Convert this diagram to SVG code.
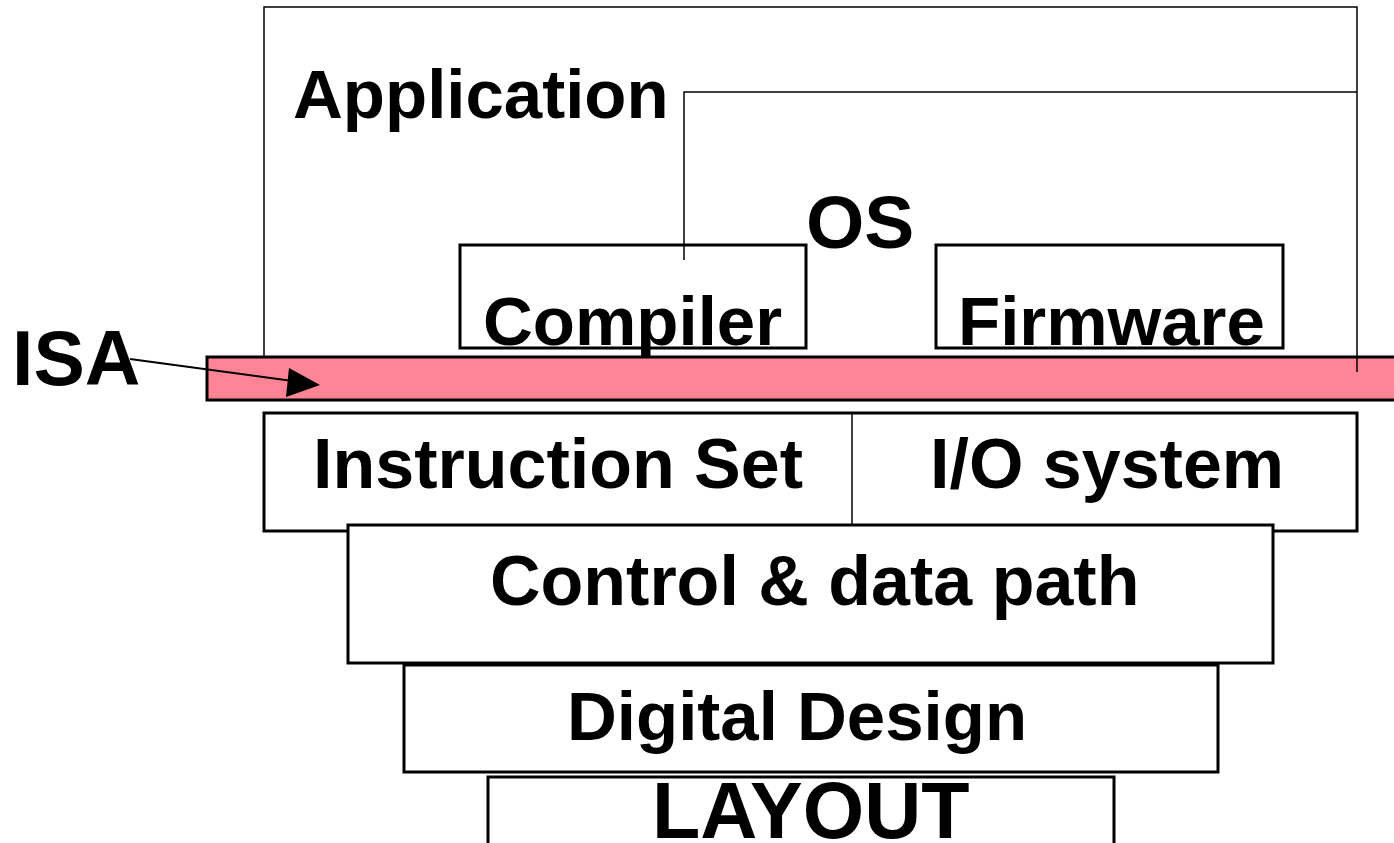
<svg xmlns="http://www.w3.org/2000/svg" width="1394" height="843" viewBox="0 0 1394 843">
<style>
.t{font-family:"Liberation Sans",Arial,sans-serif;font-weight:bold;fill:#000}
.box{fill:none;stroke:#000;stroke-width:3}
.thin{fill:none;stroke:#000;stroke-width:1.5}
</style>
<rect width="1394" height="843" fill="#fff"/>
<g id="application">
<path class="thin" d="M264,357 V7 H1357 V372"/>
<text class="t" x="293" y="118" font-size="69">Application</text>
</g>
<g id="compiler">
<rect class="box" x="460" y="245" width="346" height="103"/>
<text class="t" x="483" y="345" font-size="69">Compiler</text>
</g>
<g id="firmware">
<rect class="box" x="936" y="245" width="347" height="103"/>
<text class="t" x="958" y="345" font-size="69">Firmware</text>
</g>
<g id="os">
<path class="thin" d="M684,260 V92 H1357"/>
<text class="t" x="806" y="248" font-size="75">OS</text>
</g>
<g id="isa-bar">
<rect x="207" y="357" width="1200" height="43" fill="#FF8496" stroke="#000" stroke-width="3"/>
<line x1="1357" y1="357" x2="1357" y2="372" stroke="#000" stroke-width="1.5"/>
</g>
<g id="isa">
<text class="t" x="12" y="385" font-size="77">ISA</text>
</g>
<g id="connectors">
<line x1="130" y1="359" x2="300" y2="382" stroke="#000" stroke-width="2"/>
<path d="M320,385 L289,368 L286,397 z" fill="#000"/>
</g>
<g id="instruction-io">
<rect class="box" x="264" y="413" width="1093" height="118" fill="#fff"/>
<line x1="852" y1="413" x2="852" y2="525" stroke="#000" stroke-width="1.5"/>
<text class="t" x="313" y="488" font-size="70">Instruction Set</text>
<text class="t" x="930" y="488" font-size="70">I/O system</text>
</g>
<g id="control">
<rect x="348" y="525" width="925" height="138" fill="#fff" stroke="#000" stroke-width="3"/>
<text class="t" x="490" y="605" font-size="70">Control &amp; data path</text>
</g>
<g id="digital">
<rect x="404" y="665" width="814" height="107" fill="#fff" stroke="#000" stroke-width="3"/>
<text class="t" x="567" y="740" font-size="69">Digital Design</text>
</g>
<g id="layout">
<rect x="488" y="777" width="626" height="90" fill="#fff" stroke="#000" stroke-width="3"/>
<text class="t" x="652" y="838" font-size="79">LAYOUT</text>
</g>
</svg>
